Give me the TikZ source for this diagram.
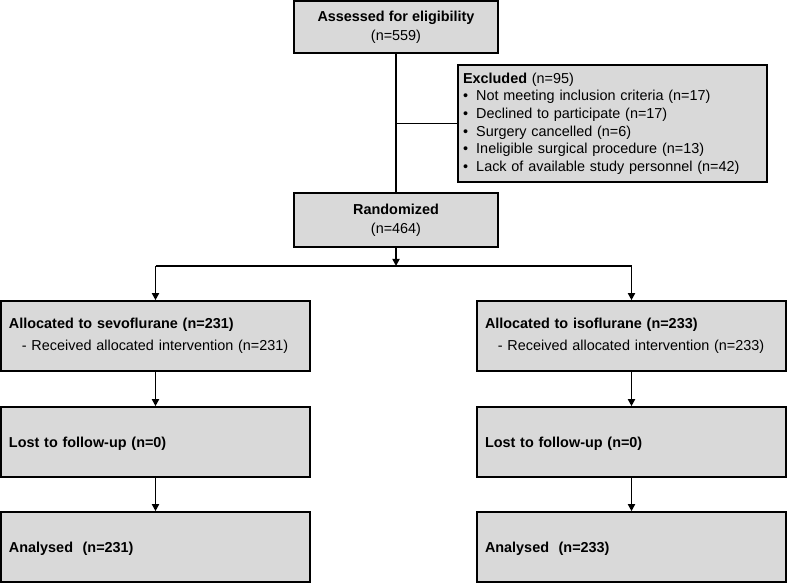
\documentclass[tikz,border=0pt]{standalone}
\usepackage{fontspec}
\setmainfont{Liberation Sans}
\usetikzlibrary{arrows.meta, positioning, calc}
\definecolor{boxgray}{RGB}{217,217,217}
\tikzset{
    box/.style={draw, line width=1.4pt, fill=boxgray, inner sep=0pt, font=\fontsize{12.3}{16.5}\selectfont},
    midbox/.style={box, minimum width=6.12cm, align=center},
    armbox/.style={box, minimum width=9.27cm, minimum height=2.1cm, text width=8.79cm, align=left,
        font=\fontsize{12.3}{19}\selectfont},
    onebox/.style={armbox, text depth=0pt},
    link/.style={line width=1.4pt},
    arrow/.style={link, -{Triangle[length=6pt, width=6pt]}}
}

\begin{document}
\begin{tikzpicture}[x=0.03cm, y=-0.03cm]
    \useasboundingbox (0,0) rectangle (787,583);
    % Enrolment
    \node[midbox, minimum height=1.56cm] (assess) at (396,27) {\textbf{Assessed for eligibility}\\(n=559)};
    \node[box, minimum width=9.27cm, minimum height=3.51cm, text width=8.97cm, align=left,
        font=\fontsize{12.3}{15}\selectfont] (excl) at (612.5,123.5)
        {\textbf{Excluded} (n=95)\\
         \textbullet\hspace{7pt}Not meeting inclusion criteria (n=17)\\
         \textbullet\hspace{7pt}Declined to participate (n=17)\\
         \textbullet\hspace{7pt}Surgery cancelled (n=6)\\
         \textbullet\hspace{7pt}Ineligible surgical procedure (n=13)\\
         \textbullet\hspace{7pt}Lack of available study personnel (n=42)};
    \node[midbox, minimum height=1.62cm] (rand) at (396,220) {\textbf{Randomized}\\(n=464)};
    % Allocation
    \node[armbox] (sevo) at (155.5,336) {\textbf{Allocated to sevoflurane (n=231)}\\
        \hspace{11pt}- Received allocated intervention (n=231)};
    \node[armbox] (iso) at (631.5,336) {\textbf{Allocated to isoflurane (n=233)}\\
        \hspace{11pt}- Received allocated intervention (n=233)};
    % Follow-up
    \node[onebox] (lostL) at (155.5,442) {\textbf{Lost to follow-up (n=0)}};
    \node[onebox] (lostR) at (631.5,442) {\textbf{Lost to follow-up (n=0)}};
    % Analysis
    \node[onebox] (analL) at (155.5,547) {\textbf{Analysed\ \ (n=231)}};
    \node[onebox] (analR) at (631.5,547) {\textbf{Analysed\ \ (n=233)}};
    % Connectors
    \draw[link] (assess) -- (rand);
    \draw[link] (assess.south |- excl.west) -- (excl.west);
    \coordinate (split) at (396,266);
    \coordinate (splitL) at (sevo.north |- split);
    \coordinate (splitR) at (iso.north |- split);
    \draw[arrow] (rand) -- (split);
    \draw[link] (splitL) -- (splitR);
    \draw[arrow] (splitL) -- (sevo);
    \draw[arrow] (splitR) -- (iso);
    \draw[arrow] (sevo) -- (lostL);
    \draw[arrow] (iso) -- (lostR);
    \draw[arrow] (lostL) -- (analL);
    \draw[arrow] (lostR) -- (analR);
\end{tikzpicture}
\end{document}
